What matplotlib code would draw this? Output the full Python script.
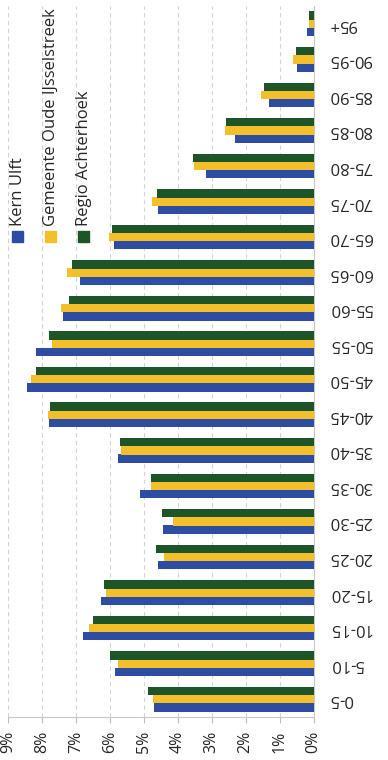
import numpy as np
import matplotlib
matplotlib.use('Agg')
import matplotlib.pyplot as plt
from matplotlib.patches import Rectangle

# age groups, bottom (0-5) to top (95+)
groups = ['0-5', '5-10', '10-15', '15-20', '20-25', '25-30', '30-35', '35-40', '40-45', '45-50',
          '50-55', '55-60', '60-65', '65-70', '70-75', '75-80', '80-85', '85-90', '90-95', '95+']
kern_ulft = [4.71, 5.85, 6.79, 6.27, 4.57, 4.43, 5.10, 5.76, 7.78, 8.44,
             8.17, 7.37, 6.87, 5.88, 4.59, 3.16, 2.31, 1.32, 0.49, 0.20]
gemeente = [4.74, 5.77, 6.62, 6.10, 4.41, 4.15, 4.79, 5.66, 7.81, 8.32,
            7.71, 7.44, 7.26, 6.03, 4.77, 3.52, 2.62, 1.56, 0.61, 0.14]
regio = [4.88, 6.00, 6.50, 6.16, 4.64, 4.46, 4.80, 5.71, 7.76, 8.17,
         7.80, 7.20, 7.12, 5.95, 4.60, 3.54, 2.58, 1.46, 0.53, 0.12]
series_names = ['Kern Ulft', 'Gemeente Oude IJsselstreek', 'Regio Achterhoek']
colors = ['#2C4DA2', '#F3BF2B', '#1E5528']

plt.rcParams['font.family'] = ['Open Sans', 'DejaVu Sans']

W, H = 388, 760
fig = plt.figure(figsize=(W / 100, H / 100), dpi=100)
ax = fig.add_axes([8 / W, (H - 717) / H, (313.5 - 8) / W, (717 - 6) / H])

y = np.arange(len(groups))
bh = 0.235
for i, (vals, c) in enumerate(zip([kern_ulft, gemeente, regio], colors)):
    ax.barh(y + (i - 1) * 0.23, vals, height=bh, color=c, zorder=3)

ax.set_xlim(9, 0)
ax.set_ylim(-0.5, len(groups) - 0.5)
ax.set_xticks(range(10))
ax.set_xticklabels(['%d%%' % v for v in range(10)], rotation=90, fontsize=11.5, color='#262626')
ax.yaxis.tick_right()
ax.set_yticks(y)
ax.set_yticklabels(groups, rotation=180, fontsize=12, color='#262626', va='center')
ax.tick_params(axis='y', length=0, pad=11)
ax.tick_params(axis='x', length=4, color='#bbbbbb', pad=6)
ax.grid(axis='x', color='#d4d4d4', linestyle=(0, (4, 3)), linewidth=0.8, zorder=0)
for s in ['top', 'left']:
    ax.spines[s].set_visible(False)
for s in ['right', 'bottom']:
    ax.spines[s].set_color('#c8c8c8')

# legend, drawn rotated like the chart
for i, (name, c) in enumerate(zip(series_names, colors)):
    xc = 17.5 + i * 33
    fig.add_artist(Rectangle(((xc - 5.5) / W, (H - 242) / H), 11 / W, 11 / H,
                             transform=fig.transFigure, color=c))
    fig.text(xc / W, (H - 226) / H, name, rotation=90, ha='center', va='bottom',
             fontsize=12, color='#262626')

fig.savefig('out.png', dpi=100)
